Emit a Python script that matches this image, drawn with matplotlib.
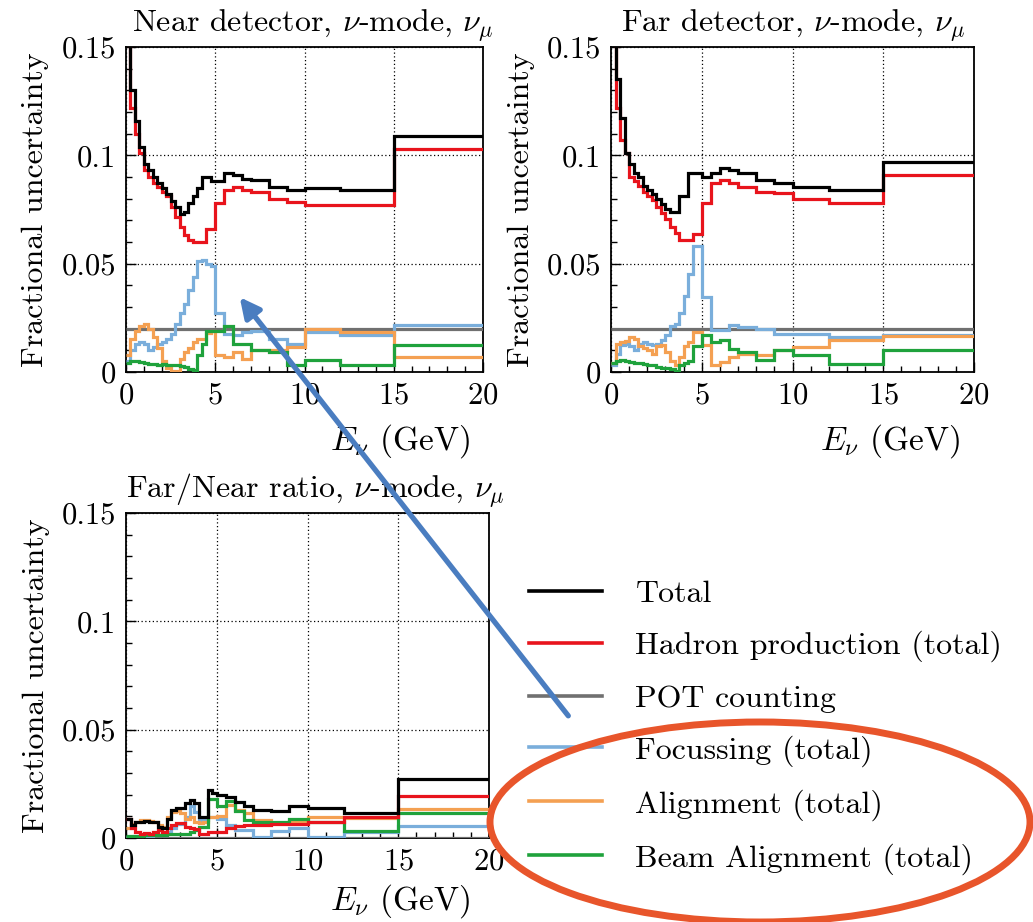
import numpy as np
import matplotlib
matplotlib.use("Agg")
import matplotlib.pyplot as plt
from matplotlib.patches import Ellipse, FancyArrowPatch
from matplotlib.ticker import MultipleLocator, FuncFormatter

plt.rcParams['font.family'] = 'serif'
plt.rcParams['font.serif'] = ['cmr10', 'DejaVu Serif']
plt.rcParams['mathtext.fontset'] = 'cm'
plt.rcParams['axes.formatter.use_mathtext'] = True

# bin edges in GeV (0.25 GeV bins up to 5, wider above)
edges = [0, 0.25, 0.5, 0.75, 1.0, 1.25, 1.5, 1.75, 2.0, 2.25, 2.5, 2.75,
         3.0, 3.25, 3.5, 3.75, 4.0, 4.25, 4.5, 4.75, 5.0,
         5.5, 6.0, 6.5, 7.0, 8.0, 9.0, 10.0, 12.0, 15.0, 20.0]

labels = ['Total', 'Hadron production (total)', 'POT counting',
          'Focussing (total)', 'Alignment (total)', 'Beam Alignment (total)']
colors = ['#000000', '#e8141c', '#707070', '#7aaedb', '#f4a052', '#1fa23c']

# near detector
near_total = [0.19, 0.13, 0.116, 0.104, 0.096, 0.093, 0.090, 0.087, 0.085, 0.082,
              0.079, 0.076, 0.073, 0.074, 0.078, 0.081, 0.085, 0.090, 0.090, 0.088,
              0.088, 0.092, 0.091, 0.089, 0.0886, 0.0856, 0.084, 0.0848, 0.084, 0.1087]
near_hadron = [0.18, 0.122, 0.110, 0.101, 0.093, 0.090, 0.087, 0.0856, 0.083, 0.081,
               0.076, 0.0717, 0.067, 0.063, 0.061, 0.060, 0.060, 0.060, 0.066, 0.066,
               0.078, 0.084, 0.0856, 0.084, 0.083, 0.080, 0.0786, 0.077, 0.077, 0.103]
near_pot = [0.02] * 30
near_focus = [0.005, 0.010, 0.013, 0.014, 0.013, 0.010, 0.0116, 0.0128, 0.0139, 0.0154,
              0.0177, 0.022, 0.027, 0.0316, 0.0378, 0.044, 0.051, 0.0516, 0.050, 0.049,
              0.027, 0.0177, 0.017, 0.0185, 0.019, 0.0154, 0.013, 0.0185, 0.017, 0.0216]
near_align = [0.008, 0.015, 0.019, 0.021, 0.022, 0.020, 0.016, 0.011, 0.005, 0.002,
              0.0005, 0.0005, 0.006, 0.009, 0.011, 0.014, 0.015, 0.015, 0.018, 0.019,
              0.0077, 0.0069, 0.009, 0.006, 0.010, 0.010, 0.0116, 0.020, 0.0185, 0.007]
near_beam = [0.004, 0.005, 0.005, 0.0045, 0.004, 0.0035, 0.0035, 0.003, 0.0035, 0.003,
             0.003, 0.003, 0.0028, 0.0025, 0.0015, 0.001, 0.008, 0.013, 0.019, 0.019,
             0.019, 0.021, 0.013, 0.013, 0.010, 0.009, 0.003, 0.0055, 0.003, 0.0125]

# far detector
far_total = [0.19, 0.135, 0.117, 0.101, 0.096, 0.092, 0.090, 0.086, 0.084, 0.082,
             0.080, 0.0775, 0.075, 0.074, 0.074, 0.081, 0.081, 0.0917, 0.0917, 0.0917,
             0.090, 0.0917, 0.094, 0.093, 0.0917, 0.0886, 0.087, 0.0856, 0.084, 0.097]
far_hadron = [0.18, 0.122, 0.107, 0.101, 0.090, 0.088, 0.086, 0.083, 0.081, 0.0795,
              0.076, 0.0735, 0.0705, 0.067, 0.064, 0.061, 0.061, 0.061, 0.0635, 0.0635,
              0.0778, 0.087, 0.0886, 0.087, 0.0856, 0.083, 0.0825, 0.080, 0.078, 0.091]
far_pot = [0.02] * 30
far_focus = [0.003, 0.0085, 0.0125, 0.013, 0.012, 0.010, 0.013, 0.0139, 0.013, 0.0125,
             0.013, 0.0146, 0.017, 0.021, 0.022, 0.027, 0.035, 0.045, 0.058, 0.058,
             0.0347, 0.0193, 0.0193, 0.0216, 0.0208, 0.020, 0.0177, 0.0177, 0.016, 0.017]
far_align = [0.004, 0.013, 0.014, 0.0145, 0.016, 0.015, 0.012, 0.011, 0.010, 0.0085,
             0.012, 0.0125, 0.009, 0.005, 0.003, 0.007, 0.012, 0.014, 0.0185, 0.0185,
             0.0123, 0.003, 0.0046, 0.0069, 0.0085, 0.0077, 0.010, 0.0116, 0.0146, 0.0168]
far_beam = [0.004, 0.005, 0.0055, 0.005, 0.0045, 0.004, 0.004, 0.0035, 0.003, 0.003,
            0.0025, 0.002, 0.002, 0.0015, 0.0005, 0.003, 0.004, 0.005, 0.012, 0.012,
            0.017, 0.0139, 0.0146, 0.0108, 0.0093, 0.0054, 0.010, 0.0077, 0.0039, 0.010]

# far/near ratio
ratio_total = [0.009, 0.006, 0.0072, 0.0075, 0.0078, 0.0075, 0.0072, 0.0052, 0.0045, 0.009,
               0.013, 0.014, 0.0137, 0.016, 0.0175, 0.016, 0.0098, 0.0098, 0.022, 0.021,
               0.020, 0.019, 0.0165, 0.015, 0.0128, 0.0125, 0.0148, 0.0137, 0.0114, 0.0272]
ratio_hadron = [0.009, 0.0045, 0.003, 0.002, 0.0025, 0.002, 0.003, 0.0037, 0.003, 0.0048,
                0.006, 0.0068, 0.007, 0.005, 0.0048, 0.0042, 0.002, 0.002, 0.0028, 0.003,
                0.003, 0.0048, 0.0055, 0.006, 0.006, 0.0065, 0.0065, 0.0075, 0.0095, 0.0195]
ratio_pot = [0.0] * 30
ratio_focus = [0.0006, 0.0006, 0.0006, 0.0006, 0.0006, 0.0006, 0.0014, 0.0014, 0.0014, 0.003,
               0.0048, 0.0063, 0.0063, 0.0098, 0.015, 0.012, 0.0083, 0.0083, 0.0098, 0.0098,
               0.009, 0.006, 0.0035, 0.0035, 0.0006, 0.0032, 0.0045, 0.0006, 0.003, 0.0055]
ratio_align = [0.0045, 0.0063, 0.0075, 0.0083, 0.0083, 0.0078, 0.0072, 0.006, 0.0052, 0.0098,
               0.012, 0.0125, 0.0114, 0.009, 0.0098, 0.0075, 0.0068, 0.0075, 0.0098, 0.0098,
               0.010, 0.0154, 0.013, 0.0115, 0.0085, 0.007, 0.0077, 0.0095, 0.0093, 0.0132]
ratio_beam = [0.001, 0.001, 0.001, 0.001, 0.0014, 0.0014, 0.0014, 0.0014, 0.0014, 0.0017,
              0.0017, 0.0017, 0.0017, 0.002, 0.0028, 0.0037, 0.005, 0.005, 0.018, 0.018,
              0.0146, 0.017, 0.0123, 0.0083, 0.0075, 0.0075, 0.0086, 0.0075, 0.0032, 0.0117]

FS = 23      # labels, titles, legend
TFS = 22     # tick labels
W, H = 1033, 922
fig = plt.figure(figsize=(W / 100, H / 100), dpi=100)

def px_axes(x0, y0, x1, y1):
    return fig.add_axes([x0 / W, 1 - y1 / H, (x1 - x0) / W, (y1 - y0) / H])

def draw_panel(ax, series, title, title_dx, xlab_x, xlab_y, ylab_x):
    # draw order: pot, focus, align, beam, hadron, total
    for i in [2, 3, 4, 5, 1, 0]:
        ax.stairs(series[i], edges, baseline=None, color=colors[i], lw=2.3,
                  label=labels[i], zorder=3)
    ax.set_xlim(0, 20)
    ax.set_ylim(0, 0.15)
    ax.xaxis.set_major_locator(MultipleLocator(5))
    ax.xaxis.set_minor_locator(MultipleLocator(1))
    ax.yaxis.set_major_locator(MultipleLocator(0.05))
    ax.yaxis.set_minor_locator(MultipleLocator(0.01))
    ax.yaxis.set_major_formatter(FuncFormatter(lambda v, p: f"{v:g}"))
    ax.tick_params(which='both', direction='in', top=False, right=False,
                   labelsize=TFS, pad=7)
    ax.tick_params(which='major', length=7, width=1)
    ax.tick_params(which='minor', length=4.5, width=1)
    ax.grid(True, which='major', ls=(0, (1, 2)), color='black', lw=0.9)
    for s in ax.spines.values():
        s.set_linewidth(1.3)
    bbox = ax.get_position()
    ax_w = bbox.width * W
    ax_h = bbox.height * H
    ax.text(title_dx / ax_w, 1 + 15 / ax_h, title, transform=ax.transAxes,
            fontsize=FS, ha='left', va='baseline')
    ax.set_xlabel(r'$E_\nu$ (GeV)', fontsize=FS + 1, loc='right')
    ax.xaxis.set_label_coords(xlab_x, xlab_y)
    ax.set_ylabel('Fractional uncertainty', fontsize=FS)
    ax.yaxis.set_label_coords(ylab_x, 0.5)

ax_near = px_axes(126, 47, 483, 372)
ax_far = px_axes(611, 47, 974, 372)
ax_ratio = px_axes(126, 513, 489, 838)

draw_panel(ax_near, [near_total, near_hadron, near_pot, near_focus, near_align, near_beam],
           r'Near detector, $\nu$-mode, $\nu_\mu$', 6, 0.963, -0.155, -0.215)
draw_panel(ax_far, [far_total, far_hadron, far_pot, far_focus, far_align, far_beam],
           r'Far detector, $\nu$-mode, $\nu_\mu$', 10, 0.961, -0.155, -0.21)
draw_panel(ax_ratio, [ratio_total, ratio_hadron, ratio_pot, ratio_focus, ratio_align, ratio_beam],
           r'Far/Near ratio, $\nu$-mode, $\nu_\mu$', 0, 0.948, -0.135, -0.21)

leg_handles = [plt.Line2D([], [], color=c, lw=2.6) for c in colors]
fig.legend(leg_handles, labels, loc='upper left', bbox_to_anchor=(529 / W, 1 - 580 / H),
           frameon=False, fontsize=FS, handlelength=2.28, handletextpad=1.05,
           labelspacing=0.70, borderpad=0, borderaxespad=0)

# annotation arrow and ellipse drawn over the figure
arrow = FancyArrowPatch((570 / W, 1 - 718 / H), (238 / W, 1 - 295 / H),
                        transform=fig.transFigure, arrowstyle='-|>',
                        mutation_scale=30, color='#4a7dc0', lw=3.8, zorder=20)
fig.add_artist(arrow)
ell = Ellipse((760 / W, 1 - 822 / H), 540 / W, 200 / H, transform=fig.transFigure,
              fill=False, edgecolor='#e8552b', lw=5, zorder=21)
fig.add_artist(ell)

fig.savefig('out.png', dpi=100)
